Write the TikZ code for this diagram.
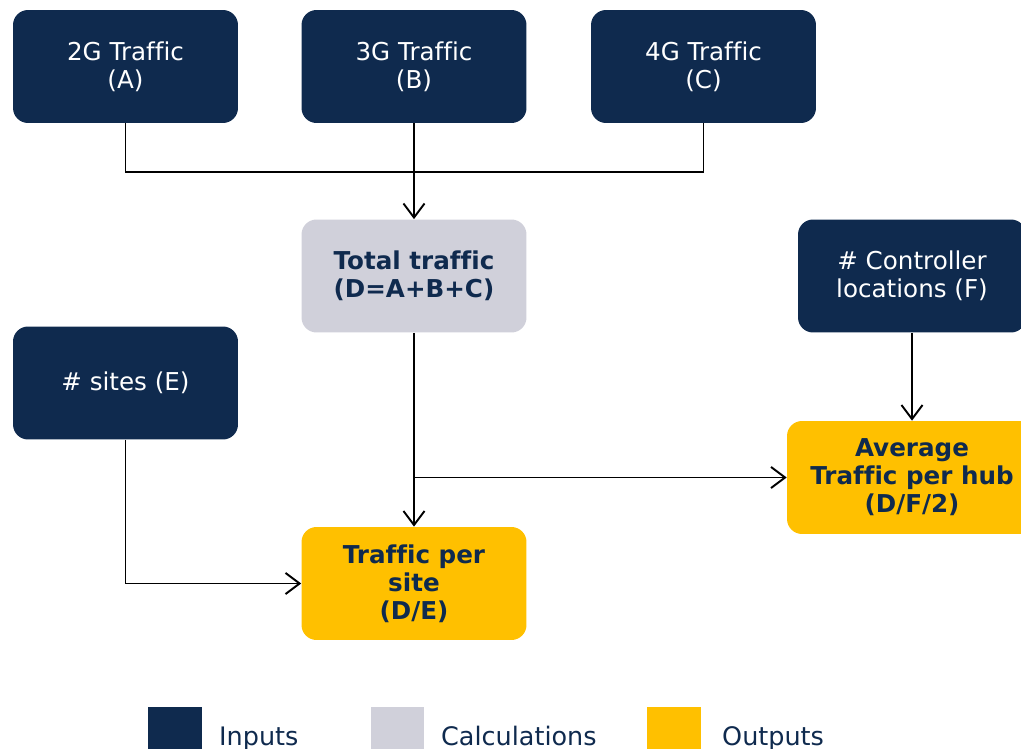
\documentclass[tikz,border=0pt]{standalone}
\usepackage{fontspec}
\setmainfont[Ligatures=NoCommon]{DejaVu Sans}
\usepackage{tikz}
\usetikzlibrary{arrows.meta}
\usepackage{xcolor}
\definecolor{navy}{HTML}{0F2A4E}
\definecolor{calcgray}{HTML}{D0D0DA}
\definecolor{outyellow}{HTML}{FFC000}
\tikzset{
  box/.style={rounded corners=0.3cm, align=center, minimum width=4.5cm,
    minimum height=2.26cm, font=\fontsize{14}{16}\selectfont},
  inbox/.style={box, fill=navy, text=white},
  calcbox/.style={box, fill=calcgray, text=navy, font=\bfseries\fontsize{14}{16}\selectfont},
  outbox/.style={box, fill=outyellow, text=navy, font=\bfseries\fontsize{14}{16}\selectfont},
  link/.style={line width=1.1pt, -{Straight Barb[length=8pt,width=12pt]}},
  key/.style={minimum width=1.08cm, minimum height=1.2cm, inner sep=0pt},
  keytext/.style={anchor=base west, text=navy, font=\fontsize{14.5}{16}\selectfont},
}

\begin{document}
\begin{tikzpicture}[x=0.02cm,y=-0.02cm]
  \clip (0,0) rectangle (1021,749);
  \node[inbox] (nA) at (125.5,66.5) {2G Traffic\\(A)};
  \node[inbox] (nB) at (414,66.5) {3G Traffic\\(B)};
  \node[inbox] (nC) at (703.5,66.5) {4G Traffic\\(C)};
  \node[calcbox] (nD) at (414,276) {Total traffic\\(D=A+B+C)};
  \node[inbox] (nE) at (125.5,383) {\# sites (E)};
  \node[inbox, minimum width=4.56cm] (nF) at (912,276) {\# Controller\\locations (F)};
  \node[outbox] (nSite) at (414,583.5) {Traffic per\\site\\(D/E)};
  \node[outbox, minimum width=5cm] (nHub) at (912,477.5) {Average\\Traffic per hub\\(D/F/2)};
  \coordinate (jTop) at (nB.south |- 0,172);
  \coordinate (jHub) at (nD.south |- nHub.west);
  \draw[line width=1.1pt] (nA.south) |- (jTop) -| (nC.south);
  \draw[link] (nB) -- (nD);
  \draw[link] (nD) -- (nSite);
  \draw[link] (jHub) -- (nHub);
  \draw[link] (nE.south) |- (nSite.west);
  \draw[link] (nF) -- (nHub);
  \node[key, fill=navy] (kIn) at (175,737) {};
  \node[keytext] (tIn) at (213,745) {Inputs};
  \node[key, fill=calcgray] (kCalc) at (397.5,737) {};
  \node[keytext] (tCalc) at (435,745) {Calculations};
  \node[key, fill=outyellow] (kOut) at (673.5,737) {};
  \node[keytext] (tOut) at (716,745) {Outputs};
\end{tikzpicture}
\end{document}
